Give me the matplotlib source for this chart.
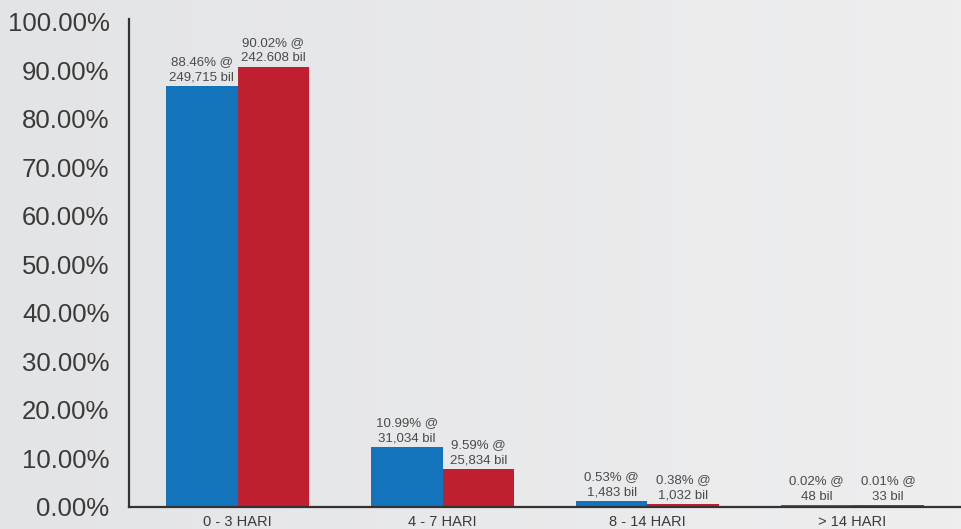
import numpy as np
import matplotlib.pyplot as plt

# data
categories = ['0 - 3 HARI', '4 - 7 HARI', '8 - 14 HARI', '> 14 HARI']
blue_height = [86.7, 12.4, 1.2, 0.35]   # bar heights as drawn (%)
red_height = [90.8, 7.8, 0.6, 0.35]
blue_labels = ['88.46% @\n249,715 bil', '10.99% @\n31,034 bil', '0.53% @\n1,483 bil', '0.02% @\n48 bil']
red_labels = ['90.02% @\n242.608 bil', '9.59% @\n25,834 bil', '0.38% @\n1,032 bil', '0.01% @\n33 bil']
yticks = [0, 10, 20, 30, 40, 50, 60, 70, 80, 90, 100]

plt.rcParams['font.family'] = ['Liberation Sans', 'DejaVu Sans']

fig = plt.figure(figsize=(9.61, 5.29), dpi=100)

# soft grey gradient background
bg = fig.add_axes([0, 0, 1, 1])
grad = np.linspace(0, 1, 256).reshape(1, -1)
bg.imshow(grad, aspect='auto', cmap=plt.matplotlib.colors.LinearSegmentedColormap.from_list(
    'bg', ['#e3e4e6', '#eeeeef']), extent=[0, 1, 0, 1])
bg.axis('off')

ax = fig.add_axes([129 / 961, 1 - 507 / 529, 1 - 129 / 961, 488 / 529])
ax.patch.set_alpha(0)

x = np.arange(len(categories))
w = 0.35
ax.bar(x - w / 2, blue_height, w, color='#1474bb')
ax.bar(x + w / 2, red_height, w, color='#c01f2f')

for xi, h, lab in zip(x - w / 2, blue_height, blue_labels):
    ax.annotate(lab, (xi, h), xytext=(0, 2), textcoords='offset points',
                ha='center', va='bottom', fontsize=9.5, color='#4a4a4a', linespacing=1.35)
for xi, h, lab in zip(x + w / 2, red_height, red_labels):
    ax.annotate(lab, (xi, h), xytext=(0, 2), textcoords='offset points',
                ha='center', va='bottom', fontsize=9.5, color='#4a4a4a', linespacing=1.35)

ax.set_xlim(-0.53, 3.53)
ax.set_ylim(0, 100.6)
ax.set_yticks(yticks)
ax.set_yticklabels(['%.2f%%' % t for t in yticks], fontsize=18.5, color='#3a3a3a')
ax.set_xticks(x)
ax.set_xticklabels(categories, fontsize=10.5, color='#3a3a3a')
ax.tick_params(axis='both', length=0)
ax.tick_params(axis='y', pad=14)
ax.tick_params(axis='x', pad=6)

for s in ['top', 'right']:
    ax.spines[s].set_visible(False)
for s in ['left', 'bottom']:
    ax.spines[s].set_color('#333333')
    ax.spines[s].set_linewidth(1.6)

fig.savefig('out.png', dpi=100)
